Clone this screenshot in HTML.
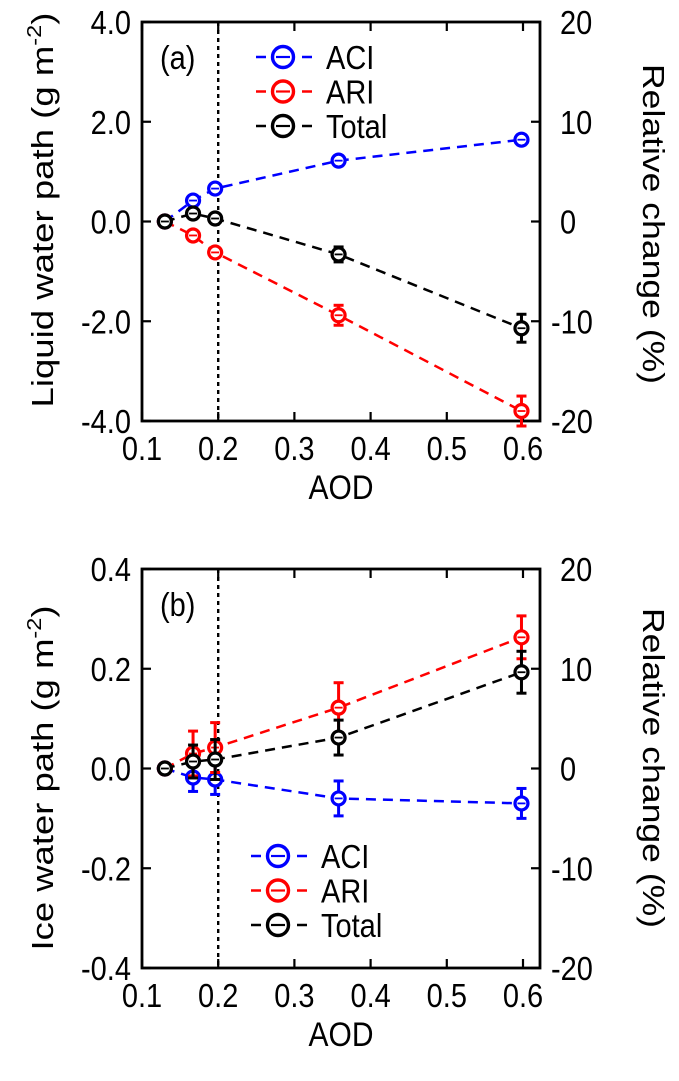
<!DOCTYPE html>
<html><head><meta charset="utf-8"><style>
html,body{margin:0;padding:0;background:#fff;}
svg text{font-family:"Liberation Sans",Arial,sans-serif;fill:#000;}
</style></head><body>
<svg id="chart" width="679" height="1076" viewBox="0 0 679 1076" xmlns="http://www.w3.org/2000/svg"></svg>
<script>
const aod = [0.13, 0.167, 0.196, 0.358, 0.598];
const xTicks = [0.1, 0.2, 0.3, 0.4, 0.5, 0.6];
const xTickLabels = ["0.1","0.2","0.3","0.4","0.5","0.6"];
const rightTickLabels = ["20","10","0","-10","-20"];
// Panel (a)
const aTicks = [4, 2, 0, -2, -4];
const aTickLabels = ["4.0","2.0","0.0","-2.0","-4.0"];
const aAci = [0, 0.42, 0.66, 1.22, 1.64];
const aAciErr = [0, 0.08, 0.08, 0.1, 0.1];
const aAri = [0, -0.28, -0.62, -1.88, -3.8];
const aAriErr = [0, 0.06, 0.08, 0.2, 0.3];
const aTot = [0, 0.16, 0.06, -0.66, -2.14];
const aTotErr = [0, 0.06, 0.08, 0.15, 0.28];
// Panel (b)
const bTicks = [0.4, 0.2, 0, -0.2, -0.4];
const bTickLabels = ["0.4","0.2","0.0","-0.2","-0.4"];
const bAci = [0, -0.018, -0.022, -0.06, -0.07];
const bAciErr = [0, 0.028, 0.03, 0.035, 0.03];
const bAri = [0, 0.03, 0.042, 0.122, 0.263];
const bAriErr = [0, 0.045, 0.05, 0.05, 0.043];
const bTot = [0, 0.014, 0.018, 0.062, 0.193];
const bTotErr = [0, 0.033, 0.04, 0.035, 0.042];

const NS = "http://www.w3.org/2000/svg";
const svg = document.getElementById("chart");
function mk(tag, attrs, parent){const e=document.createElementNS(NS,tag);for(const k in attrs)e.setAttribute(k,attrs[k]);(parent||svg).appendChild(e);return e;}

function panel(cfg){
  const L=142,R=540,T=cfg.top,B=cfg.top+399;
  const g=mk("g",{});
  
  
  const xs=v=>L+(v-0.1)/(0.6-0.1)*(523-L);
  const ys=v=>T+(cfg.max-v)/(cfg.max-cfg.min)*(B-T);
  const dl=mk("line",{x1:xs(0.2),x2:xs(0.2),y1:T,y2:B,stroke:"#000","stroke-width":2.4,"stroke-dasharray":"4,4"},g);
  
  
  xTicks.forEach((v,i)=>{
    mk("line",{x1:xs(v),x2:xs(v),y1:B,y2:B-9,stroke:"#000","stroke-width":2.2},g);
    mk("line",{x1:xs(v),x2:xs(v),y1:T,y2:T+9,stroke:"#000","stroke-width":2.2},g);
    const t=mk("text",{x:0,y:0,"text-anchor":"middle","font-size":29,transform:`translate(${xs(v)},${B+39}) scale(1,1.15)`},g);
    t.textContent=xTickLabels[i];
    
    
  });
  cfg.ticks.forEach((v,i)=>{
    const y=ys(v);
    mk("line",{x1:L,x2:L+9,y1:y,y2:y,stroke:"#000","stroke-width":2.2},g);
    mk("line",{x1:R,x2:R-9,y1:y,y2:y,stroke:"#000","stroke-width":2.2},g);
    const t=mk("text",{x:0,y:0,"text-anchor":"end","font-size":29,transform:`translate(131,${y+12}) scale(1,1.15)`},g);
    t.textContent=cfg.tickLabels[i];
    
    
    const t2=mk("text",{x:0,y:0,"text-anchor":"start","font-size":29,transform:`translate(${rightTickLabels[i].startsWith("-")?551:560},${y+12}) scale(1,1.15)`},g);
    t2.textContent=rightTickLabels[i];
    
    
  });
  const box=mk("rect",{x:L,y:T,width:R-L,height:B-T,fill:"none",stroke:"#000","stroke-width":2.8},g);
  
  
  cfg.series.forEach(s=>{
    const sg=mk("g",{},g);
    
    
    const pts=aod.map((a,i)=>xs(a)+","+ys(s.v[i])).join(" ");
    mk("polyline",{points:pts,fill:"none",stroke:s.c,"stroke-width":2.5,"stroke-dasharray":"10,7"},sg);
    aod.forEach((a,i)=>{
      const x=xs(a),y=ys(s.v[i]);
      const e=s.e[i];
      if(e>0){
        const y1=ys(s.v[i]+e),y2=ys(s.v[i]-e);
        mk("line",{x1:x,x2:x,y1:y1,y2:y2,stroke:s.c,"stroke-width":3},sg);
        mk("line",{x1:x-5,x2:x+5,y1:y1,y2:y1,stroke:s.c,"stroke-width":3},sg);
        mk("line",{x1:x-5,x2:x+5,y1:y2,y2:y2,stroke:s.c,"stroke-width":3},sg);
      }
      const c=mk("circle",{cx:x,cy:y,r:6.5,fill:"#fff",stroke:s.c,"stroke-width":3.2},sg);
      
      
      mk("line",{x1:x-4,x2:x+4,y1:y,y2:y,stroke:s.c,"stroke-width":1.8},sg);
    });
  });
  cfg.series.forEach((s,i)=>{
    const y=cfg.legY+i*34.5;
    const lg=mk("g",{},g);
    
    
    mk("line",{x1:cfg.legX,x2:cfg.legX+56,y1:y,y2:y,stroke:s.c,"stroke-width":2.5,"stroke-dasharray":"10,7,22,7"},lg);
    mk("circle",{cx:cfg.legX+27,cy:y,r:10.5,fill:"#fff",stroke:s.c,"stroke-width":3.4},lg);
    mk("line",{x1:cfg.legX+20,x2:cfg.legX+34,y1:y,y2:y,stroke:s.c,"stroke-width":2.2},lg);
    const t=mk("text",{x:0,y:0,"font-size":29,transform:`translate(${cfg.legX+70},${y+12}) scale(1,1.15)`},lg);
    t.textContent=s.label;
  });
  const pl=mk("text",{x:0,y:0,"font-size":29,transform:`translate(160,${cfg.top+47}) scale(1,1.15)`},g);
  pl.textContent=cfg.panel;
  
  
  const xt=mk("text",{x:0,y:0,"text-anchor":"middle","font-size":30,transform:`translate(341,${B+78}) scale(1,1.15)`},g);
  xt.textContent="AOD";
  
  
  const yt=mk("text",{x:0,y:0,"text-anchor":"middle","font-size":31,transform:`translate(53,${cfg.ltc}) rotate(-90)`,textLength:cfg.ltl,lengthAdjust:"spacingAndGlyphs"},g);
  yt.innerHTML=cfg.ltitle+' (g m<tspan dy="-12" font-size="20">-2</tspan><tspan dy="12">)</tspan>';
  
  
  const rt=mk("text",{x:0,y:0,"text-anchor":"middle","font-size":31,transform:`translate(643,${cfg.rtc}) rotate(90)`,textLength:320,lengthAdjust:"spacingAndGlyphs"},g);
  rt.textContent="Relative change (%)";
  
  
}
panel({name:"panel-a",top:22,max:4,min:-4,ticks:aTicks,tickLabels:aTickLabels,panel:"(a)",
  series:[{label:"ACI",c:"#0000ff",v:aAci,e:aAciErr},{label:"ARI",c:"#ff0000",v:aAri,e:aAriErr},{label:"Total",c:"#000",v:aTot,e:aTotErr}],
  legX:256,legY:57,ltitle:"Liquid water path",ltc:210,ltl:395,rtc:224});
panel({name:"panel-b",top:569,max:0.4,min:-0.4,ticks:bTicks,tickLabels:bTickLabels,panel:"(b)",
  series:[{label:"ACI",c:"#0000ff",v:bAci,e:bAciErr},{label:"ARI",c:"#ff0000",v:bAri,e:bAriErr},{label:"Total",c:"#000",v:bTot,e:bTotErr}],
  legX:251,legY:856,ltitle:"Ice water path",ltc:778,ltl:345,rtc:768});
</script>
</body></html>
